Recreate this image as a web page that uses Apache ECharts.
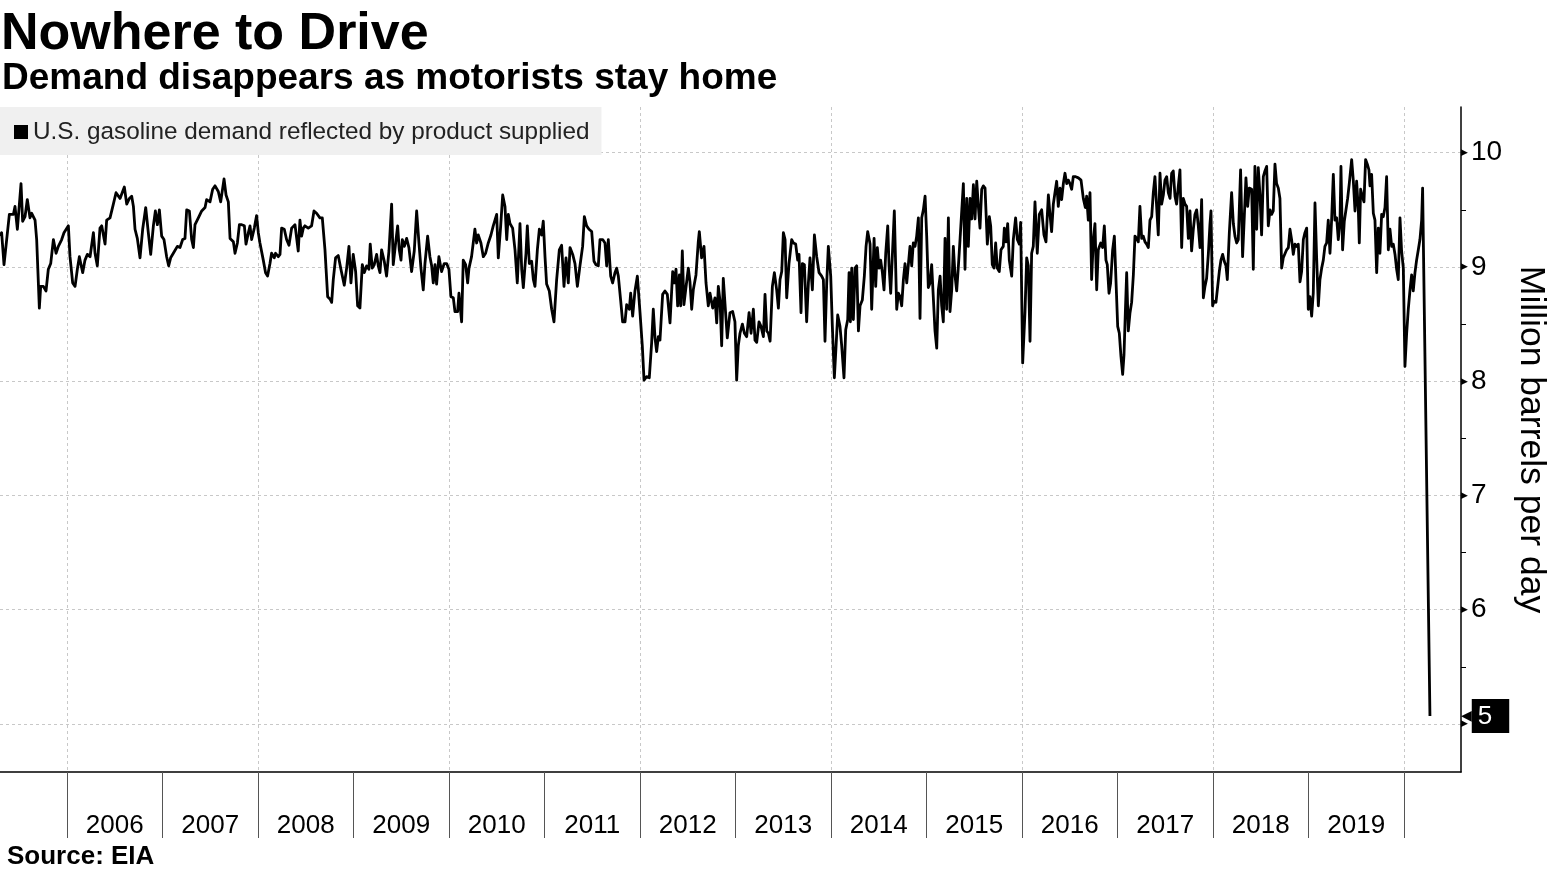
<!DOCTYPE html>
<html>
<head>
<meta charset="utf-8">
<script src="https://cdn.jsdelivr.net/npm/echarts@6/dist/echarts.min.js"></script>
<style>
html,body{margin:0;padding:0;background:#fff;}
#chart{width:1550px;height:871px;}
</style>
</head>
<body>
<div id="chart"></div>
<script>
// ---- Data (decimal year, million barrels per day) ----
const seg2005 = [[2005.298,9.27],[2005.315,9.30],[2005.340,9.02],[2005.368,9.24],[2005.396,9.46],[2005.438,9.46],[2005.455,9.53],[2005.480,9.33],[2005.518,9.73],[2005.535,9.40],[2005.560,9.44],[2005.584,9.59],[2005.612,9.43],[2005.630,9.47],[2005.665,9.41],[2005.682,9.24],[2005.710,8.64],[2005.724,8.83],[2005.752,8.83],[2005.780,8.79],[2005.804,8.98],[2005.829,9.03],[2005.857,9.24],[2005.885,9.12],[2005.909,9.18],[2005.944,9.24],[2005.968,9.30],[2006.014,9.36],[2006.031,9.09],[2006.059,8.86],[2006.084,8.83],[2006.108,8.98],[2006.129,9.09],[2006.164,8.95],[2006.188,9.06],[2006.213,9.11],[2006.241,9.09],[2006.276,9.30],[2006.293,9.12],[2006.317,9.01],[2006.345,9.34],[2006.363,9.36],[2006.398,9.20],[2006.415,9.41],[2006.450,9.43],[2006.485,9.55],[2006.513,9.65],[2006.555,9.60],[2006.600,9.70],[2006.625,9.55],[2006.653,9.60],[2006.677,9.62],[2006.695,9.53],[2006.712,9.33],[2006.736,9.25],[2006.764,9.08],[2006.792,9.33],[2006.824,9.52],[2006.851,9.30],[2006.876,9.11],[2006.904,9.36],[2006.925,9.49],[2006.946,9.37],[2006.967,9.50],[2006.991,9.27],[2007.015,9.24],[2007.043,9.09],[2007.064,9.01],[2007.085,9.08],[2007.113,9.12],[2007.131,9.11],[2007.155,9.18],[2007.183,9.17],[2007.211,9.24],[2007.235,9.25],[2007.253,9.50],[2007.281,9.49],[2007.305,9.24],[2007.323,9.17],[2007.340,9.37],[2007.375,9.43],[2007.410,9.49],[2007.445,9.52],[2007.462,9.59],[2007.497,9.57],[2007.525,9.68],[2007.550,9.71],[2007.584,9.66],[2007.609,9.57],[2007.644,9.77],[2007.665,9.63],[2007.689,9.57],[2007.707,9.25],[2007.742,9.22],[2007.759,9.12],[2007.784,9.21],[2007.805,9.37],[2007.829,9.37],[2007.857,9.36],[2007.874,9.20],[2007.899,9.30],[2007.916,9.36]];
const seg2008 = [[2007.933,9.24],[2007.961,9.34],[2007.985,9.45],[2008.003,9.30],[2008.020,9.21],[2008.055,9.06],[2008.079,8.95],[2008.100,8.92],[2008.125,9.03],[2008.142,9.12],[2008.170,9.08],[2008.184,9.12],[2008.212,9.09],[2008.230,9.11],[2008.247,9.34],[2008.275,9.33],[2008.299,9.24],[2008.324,9.19],[2008.352,9.34],[2008.387,9.37],[2008.404,9.37],[2008.421,9.14],[2008.439,9.41],[2008.456,9.27],[2008.474,9.34],[2008.491,9.36],[2008.526,9.34],[2008.561,9.36],[2008.586,9.49],[2008.613,9.47],[2008.648,9.43],[2008.673,9.43],[2008.701,9.15],[2008.729,8.74],[2008.753,8.72],[2008.771,8.69],[2008.788,8.89],[2008.812,9.08],[2008.840,9.10],[2008.868,8.98],[2008.903,8.84],[2008.928,8.99],[2008.952,9.18],[2008.973,8.86],[2008.997,9.11],[2009.022,8.96],[2009.043,8.66],[2009.067,8.64],[2009.092,9.02],[2009.113,8.95],[2009.137,9.01],[2009.161,8.98],[2009.175,9.20],[2009.196,8.99],[2009.217,9.02],[2009.242,9.11],[2009.259,9.01],[2009.277,8.95],[2009.294,9.15],[2009.322,9.05],[2009.346,8.92],[2009.371,9.14],[2009.399,9.55],[2009.416,9.02],[2009.441,9.21],[2009.462,9.36],[2009.479,9.15],[2009.497,9.06],[2009.511,9.24],[2009.532,9.18],[2009.556,9.25],[2009.580,9.17],[2009.608,8.96],[2009.636,9.14],[2009.661,9.49],[2009.685,9.21],[2009.706,8.99],[2009.730,8.80],[2009.748,9.03],[2009.776,9.27],[2009.800,9.09],[2009.818,9.01],[2009.835,8.86],[2009.853,9.02],[2009.870,8.85],[2009.894,9.09],[2009.922,8.96],[2009.950,9.03],[2009.975,9.03],[2009.999,8.98],[2010.020,8.74],[2010.045,8.73],[2010.062,8.61],[2010.090,8.61],[2010.104,8.77],[2010.132,8.52],[2010.149,9.06],[2010.174,9.02],[2010.195,8.86],[2010.209,8.99],[2010.236,9.09],[2010.271,9.33],[2010.289,9.21],[2010.306,9.28],[2010.334,9.21],[2010.359,9.09],[2010.383,9.12],[2010.411,9.21],[2010.439,9.28],[2010.463,9.36]];
const seg2010 = [[2010.499,9.46],[2010.516,9.08],[2010.541,9.36],[2010.562,9.63],[2010.586,9.53],[2010.604,9.24],[2010.621,9.46],[2010.638,9.38],[2010.666,9.34],[2010.691,9.15],[2010.715,8.86],[2010.743,9.38],[2010.761,8.98],[2010.778,8.82],[2010.806,9.12],[2010.820,9.36],[2010.841,9.03],[2010.865,9.05],[2010.883,8.89],[2010.900,8.83],[2010.925,9.15],[2010.946,9.33],[2010.970,9.28],[2010.987,9.40],[2011.005,9.09],[2011.022,8.85],[2011.050,8.79],[2011.075,8.63],[2011.099,8.52],[2011.127,8.89],[2011.155,9.15],[2011.179,9.19],[2011.204,8.83],[2011.225,9.08],[2011.249,8.86],[2011.267,9.17],[2011.295,9.11],[2011.319,9.03],[2011.344,8.83],[2011.371,9.01],[2011.399,9.18],[2011.417,9.44],[2011.441,9.36],[2011.466,9.33],[2011.494,9.31],[2011.518,9.05],[2011.539,9.02],[2011.563,9.01],[2011.581,9.24],[2011.609,9.24],[2011.633,9.21],[2011.651,9.01],[2011.668,9.24],[2011.693,8.92],[2011.713,8.86],[2011.738,8.95],[2011.755,8.99],[2011.773,8.92],[2011.797,8.71],[2011.818,8.52],[2011.843,8.52],[2011.860,8.67],[2011.888,8.63],[2011.902,8.77],[2011.923,8.57],[2011.947,8.79],[2011.972,8.92],[2012.000,8.60],[2012.024,8.31],[2012.042,8.01],[2012.069,8.04],[2012.097,8.03],[2012.122,8.34],[2012.139,8.63],[2012.157,8.38],[2012.174,8.26],[2012.192,8.39],[2012.209,8.36],[2012.237,8.76],[2012.261,8.79],[2012.286,8.76],[2012.314,8.51],[2012.342,8.96],[2012.359,8.86],[2012.377,8.98],[2012.394,8.66],[2012.412,8.93],[2012.426,8.66],[2012.443,9.14],[2012.460,8.67],[2012.481,8.82],[2012.506,8.99],[2012.523,8.87],[2012.541,8.63],[2012.558,8.80],[2012.586,8.93],[2012.610,9.22],[2012.621,9.31],[2012.645,9.08],[2012.670,9.18],[2012.691,8.86],[2012.715,8.66],[2012.733,8.77],[2012.761,8.64],[2012.785,8.73],[2012.803,8.51],[2012.820,8.83],[2012.838,8.70],[2012.855,8.31],[2012.872,8.90],[2012.890,8.89],[2012.914,8.38],[2012.942,8.60],[2012.970,8.61],[2012.994,8.52],[2013.012,8.01],[2013.029,8.31],[2013.047,8.42]];
const seg2013 = [[2013.072,8.50],[2013.093,8.42],[2013.117,8.39],[2013.142,8.60],[2013.163,8.42],[2013.187,8.63],[2013.204,8.36],[2013.222,8.34],[2013.246,8.52],[2013.267,8.48],[2013.292,8.39],[2013.309,8.76],[2013.327,8.44],[2013.344,8.42],[2013.362,8.35],[2013.386,8.83],[2013.407,8.95],[2013.431,8.80],[2013.449,8.64],[2013.466,8.89],[2013.484,8.96],[2013.501,9.30],[2013.519,9.24],[2013.536,8.73],[2013.560,9.03],[2013.588,9.24],[2013.606,9.21],[2013.630,9.20],[2013.651,9.06],[2013.665,9.11],[2013.686,8.60],[2013.700,9.03],[2013.721,9.02],[2013.745,8.52],[2013.763,8.86],[2013.780,9.08],[2013.805,8.80],[2013.826,9.28],[2013.850,9.09],[2013.875,8.95],[2013.902,8.92],[2013.920,8.89],[2013.937,8.35],[2013.955,8.86],[2013.972,9.18],[2013.997,8.92],[2014.014,8.48],[2014.035,8.03],[2014.053,8.31],[2014.070,8.58],[2014.094,8.48],[2014.112,8.31],[2014.136,8.03],[2014.154,8.45],[2014.175,8.54],[2014.189,8.95],[2014.203,8.52],[2014.217,8.99],[2014.234,8.54],[2014.252,8.99],[2014.269,9.01],[2014.287,8.44],[2014.304,8.66],[2014.328,8.71],[2014.349,8.92],[2014.367,9.18],[2014.384,9.31],[2014.409,9.20],[2014.426,8.63],[2014.451,9.25],[2014.468,8.83],[2014.485,9.17],[2014.503,8.99],[2014.520,9.06],[2014.538,8.95],[2014.555,8.80],[2014.573,9.12],[2014.594,9.36],[2014.608,9.01],[2014.625,8.77],[2014.643,9.11],[2014.663,9.49],[2014.688,8.63],[2014.705,8.77],[2014.723,8.74],[2014.740,8.66],[2014.758,8.89],[2014.775,9.03],[2014.793,8.86],[2014.810,8.87],[2014.827,9.18],[2014.845,9.01],[2014.862,9.21],[2014.880,9.18],[2014.897,9.27],[2014.915,9.43],[2014.932,8.55],[2014.950,9.43],[2014.967,9.50],[2014.985,9.62],[2015.002,9.27],[2015.019,8.82],[2015.037,8.86],[2015.054,9.02],[2015.072,9.01],[2015.089,8.44],[2015.107,8.29],[2015.124,8.80],[2015.142,8.92],[2015.159,8.66],[2015.176,8.52],[2015.194,9.25],[2015.211,8.63],[2015.229,9.43],[2015.246,8.61],[2015.264,8.80],[2015.281,9.18],[2015.299,8.92],[2015.316,8.79],[2015.334,9.01],[2015.351,9.24],[2015.368,9.24],[2015.386,9.73],[2015.403,8.98],[2015.421,9.60],[2015.438,9.18],[2015.456,9.60],[2015.473,9.42],[2015.491,9.72],[2015.508,9.42],[2015.526,9.75],[2015.543,9.53],[2015.560,9.34],[2015.578,9.68],[2015.595,9.71],[2015.613,9.69]];
const seg2015 = [[2015.623,9.70],[2015.637,9.20],[2015.658,9.44],[2015.672,9.36],[2015.689,9.02],[2015.707,8.99],[2015.724,9.21],[2015.741,8.99],[2015.762,8.96],[2015.780,9.15],[2015.804,9.18],[2015.815,9.34],[2015.832,9.22],[2015.850,9.38],[2015.867,9.06],[2015.892,8.92],[2015.909,9.24],[2015.933,9.43],[2015.951,9.24],[2015.972,9.20],[2015.986,9.39],[2016.007,8.16],[2016.031,8.60],[2016.049,9.08],[2016.066,9.01],[2016.084,8.35],[2016.101,9.12],[2016.118,9.18],[2016.136,9.57],[2016.160,9.12],[2016.181,9.46],[2016.206,9.50],[2016.230,9.28],[2016.251,9.22],[2016.276,9.63],[2016.293,9.46],[2016.310,9.31],[2016.328,9.55],[2016.345,9.65],[2016.363,9.75],[2016.380,9.53],[2016.398,9.69],[2016.415,9.59],[2016.433,9.73],[2016.450,9.82],[2016.468,9.73],[2016.485,9.76],[2016.502,9.73],[2016.520,9.68],[2016.537,9.79],[2016.562,9.79],[2016.590,9.78],[2016.618,9.76],[2016.642,9.60],[2016.663,9.52],[2016.677,9.62],[2016.694,9.41],[2016.712,9.65],[2016.729,8.89],[2016.747,9.24],[2016.764,9.38],[2016.782,8.80],[2016.799,9.15],[2016.824,9.21],[2016.844,9.17],[2016.862,9.36],[2016.879,9.06],[2016.893,9.02],[2016.911,8.77],[2016.928,8.86],[2016.949,9.15],[2016.967,9.27],[2016.984,9.28],[2017.002,8.48],[2017.019,8.42],[2017.036,8.22],[2017.054,8.06],[2017.068,8.23],[2017.082,8.60],[2017.096,8.95],[2017.113,8.44],[2017.131,8.60],[2017.148,8.69],[2017.166,8.93],[2017.183,9.27],[2017.200,9.25],[2017.218,9.22],[2017.235,9.53],[2017.253,9.25],[2017.270,9.27],[2017.288,9.22],[2017.305,9.20],[2017.323,9.17],[2017.340,9.41],[2017.358,9.44],[2017.375,9.65],[2017.392,9.79],[2017.410,9.79],[2017.427,9.28],[2017.445,9.82],[2017.462,9.55],[2017.480,9.63],[2017.497,9.76],[2017.515,9.79],[2017.532,9.65],[2017.550,9.60],[2017.567,9.82],[2017.584,9.84],[2017.602,9.62],[2017.619,9.55],[2017.637,9.71],[2017.654,9.85],[2017.672,9.17],[2017.689,9.60],[2017.707,9.55],[2017.724,9.53],[2017.742,9.25],[2017.759,9.49],[2017.776,9.14],[2017.794,9.33],[2017.811,9.46],[2017.829,9.50],[2017.846,9.36],[2017.864,9.17],[2017.881,9.59],[2017.899,8.73],[2017.916,8.83],[2017.933,8.90],[2017.951,9.11],[2017.968,9.37],[2017.979,9.49],[2017.996,8.66],[2018.010,8.70],[2018.031,8.69],[2018.049,8.70],[2018.066,8.96],[2018.083,9.06],[2018.101,9.11],[2018.118,9.05],[2018.136,9.01],[2018.150,8.89]];
const seg2018 = [[2018.171,9.30],[2018.195,9.65],[2018.213,9.38],[2018.230,9.27],[2018.248,9.21],[2018.265,9.24],[2018.289,9.85],[2018.310,9.09],[2018.324,9.09],[2018.345,9.78],[2018.363,9.53],[2018.380,9.69],[2018.405,9.68],[2018.422,8.98],[2018.439,9.88],[2018.457,9.33],[2018.474,9.87],[2018.492,9.63],[2018.509,9.28],[2018.527,9.79],[2018.544,9.84],[2018.562,9.88],[2018.579,9.36],[2018.597,9.50],[2018.614,9.46],[2018.631,9.49],[2018.649,9.90],[2018.666,9.73],[2018.684,9.69],[2018.701,9.60],[2018.719,8.99],[2018.736,9.08],[2018.754,9.09],[2018.771,9.15],[2018.789,9.17],[2018.806,9.33],[2018.823,9.24],[2018.841,9.11],[2018.858,9.20],[2018.876,9.18],[2018.893,9.20],[2018.911,8.87],[2018.928,8.96],[2018.946,9.24],[2018.963,9.30],[2018.981,9.34],[2018.998,8.63],[2019.015,8.74],[2019.033,8.57],[2019.050,8.77],[2019.068,9.56],[2019.085,9.09],[2019.103,8.66],[2019.120,8.89],[2019.138,8.99],[2019.155,9.06],[2019.172,9.18],[2019.190,9.21],[2019.207,9.41],[2019.225,9.12],[2019.242,9.41],[2019.260,9.81],[2019.277,9.41],[2019.295,9.43],[2019.312,9.24],[2019.330,9.40],[2019.340,9.88],[2019.357,9.15],[2019.375,9.40],[2019.392,9.41],[2019.410,9.60],[2019.427,9.73],[2019.452,9.94],[2019.469,9.76],[2019.487,9.49],[2019.504,9.75],[2019.522,9.50],[2019.532,9.21],[2019.546,9.68],[2019.563,9.62],[2019.581,9.57],[2019.598,9.94],[2019.616,9.90],[2019.633,9.85],[2019.644,9.71],[2019.661,9.81],[2019.679,9.47],[2019.696,9.41],[2019.714,8.95],[2019.731,9.34],[2019.748,9.12],[2019.766,9.46],[2019.783,9.44],[2019.801,9.52],[2019.818,9.79],[2019.836,9.15],[2019.853,9.33],[2019.871,9.18],[2019.888,9.20],[2019.906,9.11],[2019.923,8.98],[2019.940,8.89],[2019.958,9.43],[2019.975,9.14],[2019.993,8.99],[2020.010,8.13],[2020.028,8.42],[2020.045,8.63],[2020.063,8.80],[2020.080,8.93],[2020.097,8.79],[2020.115,8.95],[2020.132,9.06],[2020.150,9.15],[2020.167,9.24],[2020.185,9.41],[2020.195,9.69],[2020.272,5.07]];

const yearTicks = [2006,2007,2008,2009,2010,2011,2012,2013,2014,2015,2016,2017,2018,2019,2020];
const gridYears = [2006,2008,2010,2012,2014,2016,2018,2020];
const yearLabels = ['2006','2007','2008','2009','2010','2011','2012','2013','2014','2015','2016','2017','2018','2019'];
const yTicks = [5,6,7,8,9,10];
const yMinorTicks = [5.5,6.5,7.5,8.5,9.5];

const seriesName = 'U.S. gasoline demand reflected by product supplied';
const allData = [].concat(seg2005, seg2008, seg2010, seg2013, seg2015, seg2018);
const lastVal = allData[allData.length-1][1];

const X_MIN = 2005.298, X_MAX = 2020.597;
const Y_MIN = 4.58, Y_MAX = 10.4;
const FONT = 'Liberation Sans';
const labelPos = yearLabels.map(function(y){ return Number(y) + 0.5; });

const chart = echarts.init(document.getElementById('chart'), null, {renderer:'canvas'});
chart.setOption({
  animation: false,
  backgroundColor: '#fff',
  textStyle: { fontFamily: FONT },
  title: [
    { text: 'Nowhere to Drive', left: 1, top: 9, padding: 0,
      textStyle: { fontFamily: FONT, fontWeight: 'bold', fontSize: 52, color: '#000' } },
    { text: 'Demand disappears as motorists stay home', left: 2, top: 60, padding: 0,
      textStyle: { fontFamily: FONT, fontWeight: 'bold', fontSize: 37, color: '#000' } },
    { text: 'Source: EIA', left: 7, top: 844, padding: 0,
      textStyle: { fontFamily: FONT, fontWeight: 'bold', fontSize: 26, color: '#000' } }
  ],
  legend: {
    left: 0, top: 107, orient: 'horizontal',
    padding: [13, 12, 11, 14],
    backgroundColor: '#f0f0f0',
    itemWidth: 14, itemHeight: 14, itemGap: 10,
    textStyle: { fontFamily: FONT, fontSize: 24.3, color: '#222' },
    data: [{ name: seriesName, icon: 'rect', itemStyle: { color: '#000' } }],
    selectedMode: false
  },
  grid: { left: 0, right: 89, top: 107, bottom: 99, containLabel: false, outerBoundsMode: 'none' },
  xAxis: [
    { type: 'value', min: X_MIN, max: X_MAX, position: 'bottom',
      axisLine: { show: true, onZero: false, lineStyle: { color: '#000', width: 1.5 } },
      axisTick: { show: true, customValues: yearTicks, length: 66, lineStyle: { color: '#555', width: 1 } },
      axisLabel: { show: true, customValues: labelPos, formatter: function(v){ return String(Math.floor(v)); },
        margin: 41, fontFamily: FONT, fontSize: 26, color: '#000' },
      splitLine: { show: false } },
    { type: 'value', min: X_MIN, max: X_MAX, position: 'bottom',
      axisLine: { show: false }, axisTick: { show: false, customValues: gridYears },
      axisLabel: { show: false },
      splitLine: { show: true, lineStyle: { color: '#c8c8c8', width: 1, type: [3, 3] } } }
  ],
  yAxis: [
    { type: 'value', position: 'right', min: Y_MIN, max: Y_MAX,
      axisLine: { show: true, lineStyle: { color: '#000', width: 1.5 } },
      axisTick: { show: false, customValues: yTicks },
      axisLabel: { show: true, customValues: yTicks, margin: 0,
        formatter: function(v){ return '{t|\u25B6}{v|' + v + '}'; },
        rich: {
          t: { fontFamily: 'DejaVu Sans', fontSize: 9, color: '#000', padding: [0, 3, 0, 0] },
          v: { fontFamily: FONT, fontSize: 28, color: '#000' }
        } },
      splitLine: { show: true, lineStyle: { color: '#c8c8c8', width: 1, type: [3, 3] } },
      name: 'Million barrels per day', nameLocation: 'middle', nameRotate: -90, nameGap: 50,
      nameTextStyle: { fontFamily: FONT, fontSize: 35.5, color: '#000' } },
    { type: 'value', position: 'right', min: Y_MIN, max: Y_MAX,
      axisLine: { show: false },
      axisTick: { show: true, customValues: yMinorTicks, length: 5, lineStyle: { color: '#000', width: 1 } },
      axisLabel: { show: false }, splitLine: { show: false } }
  ],
  series: [{
    name: seriesName, type: 'line', xAxisIndex: 0, yAxisIndex: 0,
    data: allData, showSymbol: false, symbol: 'none', clip: false,
    lineStyle: { color: '#000', width: 2.8, join: 'round' },
    itemStyle: { color: '#000' },
    markLine: {
      silent: true, symbol: 'none', animation: false,
      lineStyle: { color: 'rgba(0,0,0,0)', width: 0 },
      data: [{ yAxis: lastVal }],
      label: { show: true, position: 'end', distance: 0,
        formatter: '{a|\u25C0}{b|' + Math.round(lastVal) + '}',
        rich: {
          a: { fontFamily: 'DejaVu Sans', fontSize: 14, color: '#000' },
          b: { backgroundColor: '#000', color: '#fff', fontFamily: FONT, fontSize: 26,
               padding: [5, 17, 3, 6] }
        } }
    }
  }]
});
</script>
</body>
</html>
